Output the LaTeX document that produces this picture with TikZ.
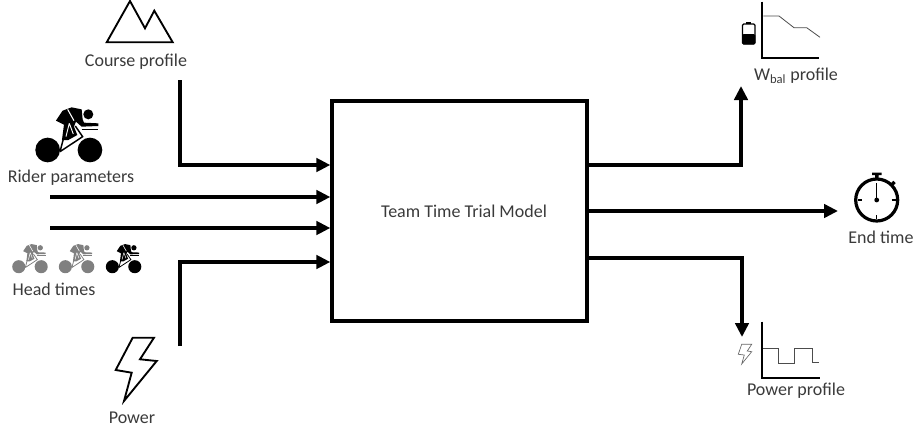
\documentclass[tikz,border=0pt]{standalone}
\usepackage{fontspec}
\setmainfont{Carlito}
\usetikzlibrary{arrows.meta}
\definecolor{labelgray}{HTML}{3A3A3A}
\definecolor{ridergray}{HTML}{808080}
\tikzset{
	flow/.style={line width=2.7pt,-{Triangle[length=10.5pt,width=10pt]}},
	lbl/.style={text=labelgray,font=\fontsize{13.5}{15}\selectfont,inner sep=0pt},
	icon/.style={line width=1.4pt,line join=miter},
	axes/.style={line width=1.3pt},
	curve/.style={line width=.6pt,draw=black!70},
}
% rider icon: x, y, size, colour
\newcommand{\rider}[4]{
	\begin{scope}[shift={(#1,#2)},x=#3*.25pt,y=-#3*.25pt,shift={(-205,-180)}]
		\fill[#4] (143,180) circle (37); \fill[#4] (270,180) circle (37);
		\fill[#4] (265,73) circle (15);
		\fill[#4] (168,92) -- (188,62) -- (215,52) -- (245,58) -- (248,88) -- (252,98) -- (295,100) -- (295,108) -- (245,110) -- (228,95) -- (222,110) -- (232,135) -- (205,150) -- (186,150) -- (192,104) -- cycle;
		\draw[#4,line width=#3*1.1pt] (180,185) -- (200,110) (180,185) -- (248,140) -- (226,108);
		\draw[#4,line width=#3*1.1pt] (245,118) -- (295,118);
		\draw[white,line width=#3*.8pt] (203,58) -- (222,92);
		\draw[white,line width=#3*.7pt] (208,100) -- (198,140) (208,100) -- (220,132);
	\end{scope}
}
\begin{document}
\begin{tikzpicture}[x=.75pt,y=-.75pt]
	\useasboundingbox (0,0) rectangle (915,432);

	\node[draw,line width=2.7pt,minimum width=191pt,minimum height=165pt,inner sep=0pt] (model) at (459.5,211) {};
	\node[lbl] (modellabel) at (464,211) {Team Time Trial Model};

	% labels
	\node[lbl] (courselabel) at (136,62) {Course profile};
	\node[lbl] (riderlabel) at (71,178) {Rider parameters};
	\node[lbl] (headlabel) at (54,289) {Head times};
	\node[lbl] (powerlabel) at (132,418) {Power};
	\node[lbl] (wballabel) at (796,76) {W\textsubscript{bal} profile};
	\node[lbl] (timelabel) at (881,237) {End time};
	\node[lbl] (profilelabel) at (796,391) {Power profile};

	% inputs
	\coordinate (coursestart) at (180,80);
	\coordinate (riderstart) at (50,197);
	\coordinate (headstart) at (50,228);
	\coordinate (powerstart) at (180,346);
	\draw[flow] (coursestart) |- (model.west |- 0,165);
	\draw[flow] (riderstart) -- (model.west |- riderstart);
	\draw[flow] (headstart) -- (model.west |- headstart);
	\draw[flow] (powerstart) |- (model.west |- 0,262);

	% outputs
	\coordinate (wbalend) at (741,86);
	\coordinate (timeend) at (838,211);
	\coordinate (profileend) at (742,337);
	\draw[flow] (model.east |- 0,165) -| (wbalend);
	\draw[flow] (model.east |- timeend) -- (timeend);
	\draw[flow] (model.east |- 0,258) -| (profileend);

	% mountain
	\draw[icon] (106.7,42.3) -- (130,1) -- (145,28.3) -- (154.3,10.7) -- (172.7,42.3) -- cycle;

	% riders
	\rider{68.3}{150}{1}{black}
	\rider{29.7}{266.7}{.53}{ridergray}
	\rider{76.3}{266.7}{.53}{ridergray}
	\rider{123.3}{266.7}{.53}{black}

	% bolt
	\draw[icon] (132.7,337.7) -- (154,337.7) -- (140,359.3) -- (156.7,361) -- (124,401) -- (131.7,372.7) -- (115.7,370) -- cycle;

	% battery
	\draw[line width=.9pt,rounded corners=1pt] (742.5,24) rectangle (755,44);
	\fill[rounded corners=1pt] (742.2,34) rectangle (755.3,44.3);
	\fill (746,22) rectangle (751.3,24);

	% wbal plot
	\draw[axes] (762,1.7) -- (762,58.3) -- (819.3,58.3);
	\draw[curve] (763.3,16) -- (779,16) -- (794,27.7) -- (806.7,27.7) -- (820,37.3);

	% stopwatch
	\draw[line width=2.4pt] (876.7,200) circle (21);
	\fill (876.7,200) circle (2.4);
	\draw[line width=1pt] (876.7,200) -- (876.7,183);
	\fill (872,172.5) rectangle (881.5,175) (875,175) rectangle (878.5,179);
	\draw[line width=2.4pt] (890.5,186) -- (894.5,182);
	\draw[line width=.9pt] (858,200) -- (862,200) (891.5,200) -- (895.5,200) (876.7,215) -- (876.7,219);

	% small bolt
	\draw[line width=.5pt,draw=black!60] (741.7,344.3) -- (751.7,344.3) -- (747.3,351) -- (751.7,351.7) -- (741.7,364) -- (744.3,355) -- (738.3,354.3) -- cycle;

	% power plot
	\draw[axes] (761.7,321.7) -- (761.7,378.3) -- (820,378.3);
	\draw[curve] (763.3,348.7) -- (778.7,348.7) -- (778.7,363.3) -- (794.7,363.3) -- (794.7,348.7) -- (812,348.7) -- (812,362.7) -- (819.3,362.7);
\end{tikzpicture}
\end{document}
